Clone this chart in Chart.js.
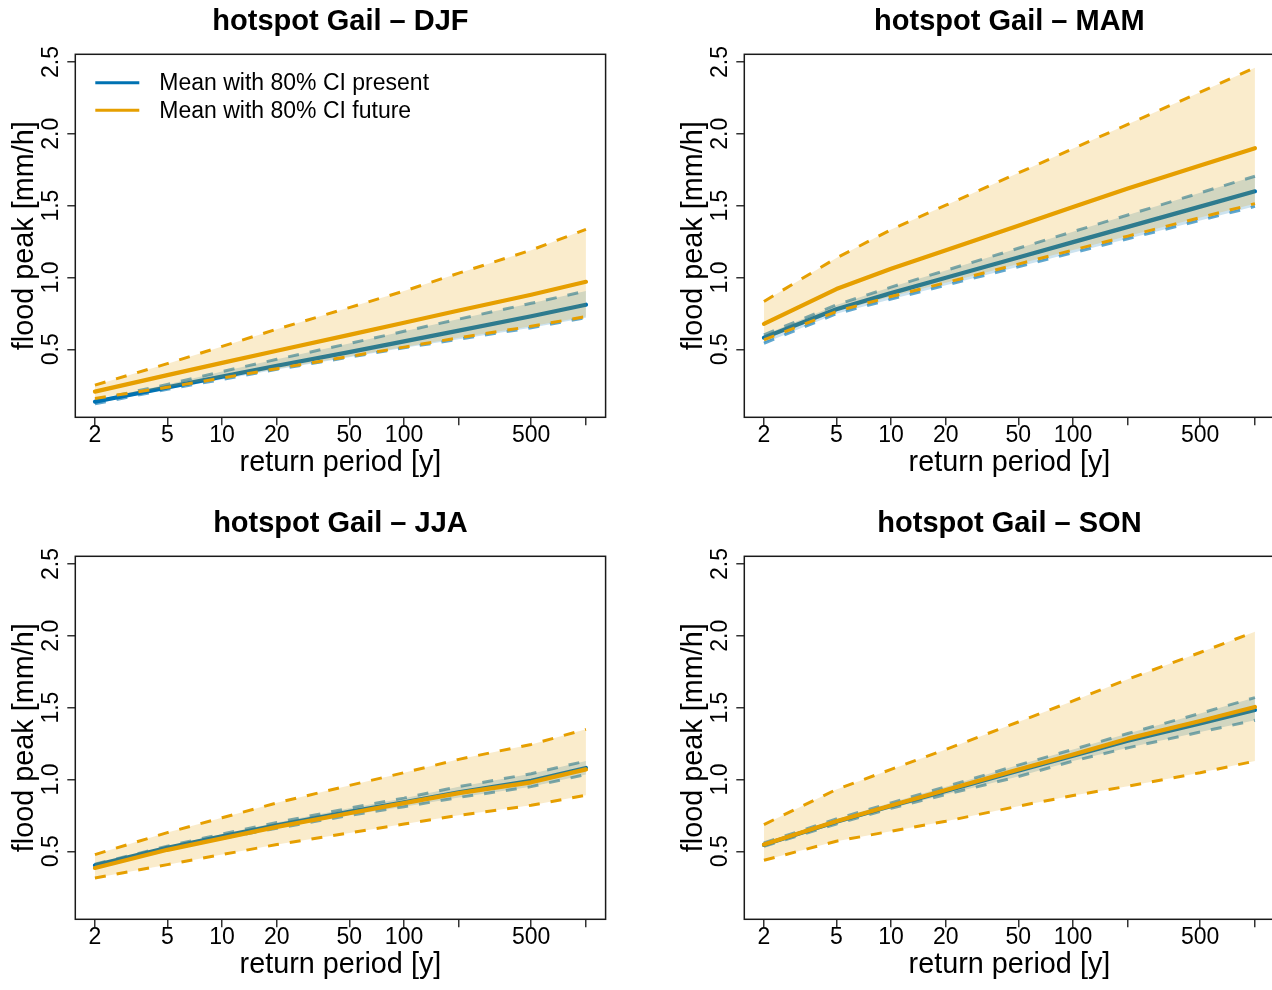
<!DOCTYPE html>
<html>
<head>
<meta charset="utf-8">
<title>hotspot Gail – flood peak return levels</title>
<script src="https://cdn.jsdelivr.net/npm/chart.js@4.4.1/dist/chart.umd.min.js"></script>
<style>
  html, body { margin: 0; padding: 0; background: #fff; overflow: hidden; width: 1272px; height: 990px; }
  .panel { position: absolute; }
</style>
</head>
<body>
<div class="panel" style="left:0px;top:0px"><canvas id="djf" width="636" height="502"></canvas></div>
<div class="panel" style="left:669px;top:0px"><canvas id="mam" width="636" height="502"></canvas></div>
<div class="panel" style="left:0px;top:502px"><canvas id="jja" width="636" height="502"></canvas></div>
<div class="panel" style="left:669px;top:502px"><canvas id="son" width="636" height="502"></canvas></div>
<script>
// Return periods (years) at which the return levels are evaluated
const returnPeriods = [2, 5, 10, 20, 50, 100, 200, 500, 1000];

// Axis ticks
const xTickValues = [2, 5, 10, 20, 50, 100, 200, 500, 1000];
const xTickLabels = ['2', '5', '10', '20', '50', '100', '', '500', ''];
const yTickValues = [0.5, 1.0, 1.5, 2.0, 2.5];

// DJF – flood peak [mm/h]
const djfPresentMean = [0.135, 0.235, 0.31, 0.385, 0.48, 0.555, 0.63, 0.73, 0.81];
const djfPresentHigh = [0.146, 0.255, 0.345, 0.43, 0.54, 0.625, 0.71, 0.82, 0.905];
const djfPresentLow  = [0.12, 0.222, 0.29, 0.36, 0.445, 0.51, 0.57, 0.65, 0.72];
const djfFutureMean  = [0.205, 0.32, 0.405, 0.49, 0.6, 0.685, 0.77, 0.88, 0.97];
const djfFutureHigh  = [0.25, 0.40, 0.52, 0.64, 0.79, 0.905, 1.03, 1.19, 1.335];
const djfFutureLow   = [0.158, 0.235, 0.3, 0.365, 0.45, 0.515, 0.58, 0.66, 0.728];

// MAM
const mamPresentMean = [0.581, 0.779, 0.891, 0.998, 1.139, 1.246, 1.352, 1.493, 1.6];
const mamPresentHigh = [0.6, 0.809, 0.933, 1.049, 1.203, 1.319, 1.435, 1.589, 1.705];
const mamPresentLow  = [0.542, 0.747, 0.849, 0.946, 1.074, 1.172, 1.269, 1.397, 1.495];
const mamFutureMean  = [0.677, 0.919, 1.06, 1.19, 1.36, 1.49, 1.62, 1.78, 1.9];
const mamFutureHigh  = [0.833, 1.135, 1.333, 1.503, 1.727, 1.897, 2.066, 2.29, 2.46];
const mamFutureLow   = [0.565, 0.763, 0.867, 0.964, 1.093, 1.191, 1.288, 1.417, 1.514];

// JJA
const jjaPresentMean = [0.402, 0.525, 0.605, 0.68, 0.775, 0.84, 0.91, 0.99, 1.08];
const jjaPresentHigh = [0.41, 0.535, 0.62, 0.7, 0.8, 0.87, 0.95, 1.04, 1.128];
const jjaPresentLow  = [0.395, 0.515, 0.59, 0.66, 0.75, 0.81, 0.875, 0.95, 1.035];
const jjaFutureMean  = [0.384, 0.51, 0.59, 0.67, 0.765, 0.835, 0.905, 0.98, 1.07];
const jjaFutureHigh  = [0.477, 0.63, 0.733, 0.837, 0.958, 1.047, 1.14, 1.244, 1.349];
const jjaFutureLow   = [0.314, 0.407, 0.477, 0.547, 0.628, 0.69, 0.75, 0.82, 0.89];

// SON
const sonPresentMean = [0.545, 0.705, 0.815, 0.92, 1.06, 1.165, 1.27, 1.39, 1.484];
const sonPresentHigh = [0.558, 0.725, 0.837, 0.95, 1.1, 1.209, 1.32, 1.46, 1.57];
const sonPresentLow  = [0.535, 0.69, 0.8, 0.895, 1.02, 1.128, 1.22, 1.33, 1.412];
const sonFutureMean  = [0.547, 0.709, 0.819, 0.926, 1.07, 1.174, 1.284, 1.407, 1.505];
const sonFutureHigh  = [0.686, 0.93, 1.07, 1.209, 1.4, 1.547, 1.698, 1.884, 2.028];
const sonFutureLow   = [0.437, 0.57, 0.64, 0.709, 0.814, 0.888, 0.953, 1.047, 1.128];

const legendLabels = ['Mean with 80% CI present', 'Mean with 80% CI future'];

const FONT = '"Liberation Sans", Arial, Helvetica, sans-serif';
const BLUE = '#0072B2';
const BLUE_DASH = 'rgba(0,114,178,0.62)';
const BLUE_FILL = 'rgba(0,114,178,0.2)';
const ORANGE = '#E69F00';
const ORANGE_FILL = 'rgba(230,159,0,0.2)';

// Shared axis limits (range of all series, padded 4% on each side)
const Y_LO = 0.12, Y_HI = 2.46;
const yPad = 0.04 * (Y_HI - Y_LO);
const xLogLo = Math.log10(2), xLogHi = Math.log10(1000);
const xPad = 0.04 * (xLogHi - xLogLo);

Chart.defaults.font.family = FONT;
Chart.defaults.color = '#000';

// Frame, panel title and (optional) legend drawn on top of the plot
const framePlugin = {
  id: 'frame',
  afterDraw(chart, args, opts) {
    const { ctx, chartArea: a } = chart;
    ctx.save();
    ctx.strokeStyle = '#1a1a1a';
    ctx.lineWidth = 1.5;
    ctx.strokeRect(a.left, a.top, a.right - a.left, a.bottom - a.top);

    ctx.fillStyle = '#000';
    ctx.font = 'bold 29px ' + FONT;
    ctx.textAlign = 'center';
    ctx.textBaseline = 'alphabetic';
    ctx.fillText(opts.title, (a.left + a.right) / 2, a.top - 24.5);

    if (opts.legend) {
      const colors = [BLUE, ORANGE];
      ctx.font = '23px ' + FONT;
      ctx.textAlign = 'left';
      ctx.textBaseline = 'middle';
      legendLabels.forEach((txt, i) => {
        const y = a.top + 28.4 + i * 27.5;
        ctx.strokeStyle = colors[i];
        ctx.lineWidth = 3;
        ctx.beginPath();
        ctx.moveTo(a.left + 20, y);
        ctx.lineTo(a.left + 64, y);
        ctx.stroke();
        ctx.fillStyle = '#000';
        ctx.fillText(txt, a.left + 84, y + 1);
      });
    }
    ctx.restore();
  }
};

function points(values) {
  return returnPeriods.map((x, i) => ({ x: x, y: values[i] }));
}

function makePanel(canvasId, title, s, withLegend) {
  const dash = [11, 11];
  const line = { pointRadius: 0, tension: 0, borderJoinStyle: 'round' };
  const datasets = [
    Object.assign({ label: 'future mean', data: points(s.futureMean), borderColor: ORANGE, borderWidth: 4.2, borderCapStyle: 'round', fill: false }, line),
    Object.assign({ label: 'future upper', data: points(s.futureHigh), borderColor: ORANGE, borderWidth: 3, borderDash: dash, fill: '+1', backgroundColor: ORANGE_FILL }, line),
    Object.assign({ label: 'future lower', data: points(s.futureLow), borderColor: ORANGE, borderWidth: 3, borderDash: dash, fill: false }, line),
    Object.assign({ label: 'present mean', data: points(s.presentMean), borderColor: BLUE, borderWidth: 4.2, borderCapStyle: 'round', fill: false }, line),
    Object.assign({ label: 'present upper', data: points(s.presentHigh), borderColor: BLUE_DASH, borderWidth: 3, borderDash: dash, fill: '+1', backgroundColor: BLUE_FILL }, line),
    Object.assign({ label: 'present lower', data: points(s.presentLow), borderColor: BLUE_DASH, borderWidth: 3, borderDash: dash, fill: false }, line)
  ];

  const tickGrid = { drawOnChartArea: false, drawTicks: true, tickLength: 8, color: '#333', tickColor: '#333', lineWidth: 1.5, tickWidth: 1.5 };

  return new Chart(document.getElementById(canvasId), {
    type: 'line',
    data: { datasets: datasets },
    plugins: [framePlugin],
    options: {
      responsive: false,
      animation: false,
      devicePixelRatio: 1,
      layout: { padding: { top: 54.3, right: 30.4, bottom: 0, left: 0 } },
      plugins: {
        legend: { display: false },
        title: { display: false },
        tooltip: { enabled: false },
        filler: { propagate: false },
        frame: { title: title, legend: withLegend }
      },
      scales: {
        x: {
          type: 'logarithmic',
          min: Math.pow(10, xLogLo - xPad),
          max: Math.pow(10, xLogHi + xPad),
          afterBuildTicks: (sc) => { sc.ticks = xTickValues.map(v => ({ value: v })); },
          afterFit: (sc) => { sc.height = 84.7; },
          ticks: {
            autoSkip: false, minRotation: 0, maxRotation: 0, padding: -3,
            color: '#000', font: { size: 23 },
            callback: (v) => { const i = xTickValues.indexOf(v); return i >= 0 ? xTickLabels[i] : ''; }
          },
          grid: tickGrid,
          border: { display: false },
          title: { display: true, text: 'return period [y]', color: '#000', font: { size: 28.8, lineHeight: 1 }, padding: { top: 0, bottom: 24.8 } }
        },
        y: {
          type: 'linear',
          min: Y_LO - yPad,
          max: Y_HI + yPad,
          afterBuildTicks: (sc) => { sc.ticks = yTickValues.map(v => ({ value: v })); },
          afterFit: (sc) => { sc.width = 75.3; },
          ticks: {
            minRotation: 90, maxRotation: 90, crossAlign: 'center', padding: 0,
            color: '#000', font: { size: 23 },
            callback: (v) => Number(v).toFixed(1)
          },
          grid: tickGrid,
          border: { display: false },
          title: { display: true, text: 'flood peak [mm/h]', color: '#000', font: { size: 28.8, lineHeight: 1 }, padding: { top: 10.6, bottom: 0 } }
        }
      }
    }
  });
}

makePanel('djf', 'hotspot Gail \u2013 DJF', {
  presentMean: djfPresentMean, presentHigh: djfPresentHigh, presentLow: djfPresentLow,
  futureMean: djfFutureMean, futureHigh: djfFutureHigh, futureLow: djfFutureLow
}, true);
makePanel('mam', 'hotspot Gail \u2013 MAM', {
  presentMean: mamPresentMean, presentHigh: mamPresentHigh, presentLow: mamPresentLow,
  futureMean: mamFutureMean, futureHigh: mamFutureHigh, futureLow: mamFutureLow
}, false);
makePanel('jja', 'hotspot Gail \u2013 JJA', {
  presentMean: jjaPresentMean, presentHigh: jjaPresentHigh, presentLow: jjaPresentLow,
  futureMean: jjaFutureMean, futureHigh: jjaFutureHigh, futureLow: jjaFutureLow
}, false);
makePanel('son', 'hotspot Gail \u2013 SON', {
  presentMean: sonPresentMean, presentHigh: sonPresentHigh, presentLow: sonPresentLow,
  futureMean: sonFutureMean, futureHigh: sonFutureHigh, futureLow: sonFutureLow
}, false);
</script>
</body>
</html>
